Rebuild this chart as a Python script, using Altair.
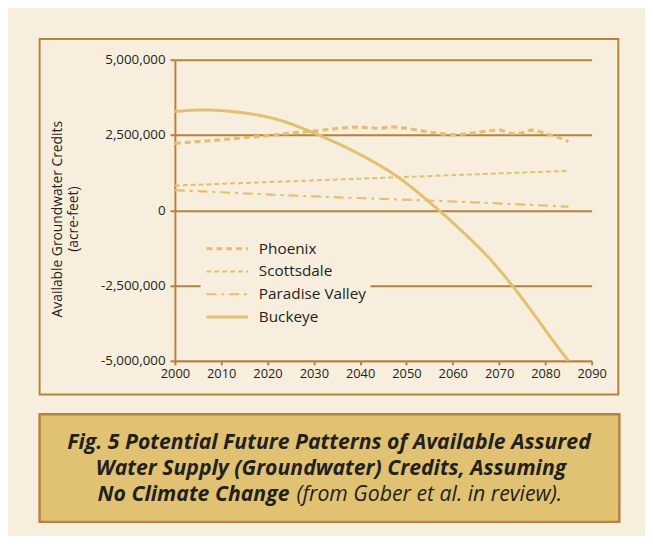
import altair as alt
import pandas as pd

# ---------------- data ----------------
cities = ["Phoenix", "Scottsdale", "Paradise Valley", "Buckeye"]

phoenix_years = [2000, 2005, 2010, 2015, 2020, 2025, 2030, 2035, 2039, 2042, 2044,
                 2047, 2050, 2054, 2057, 2060, 2063, 2067, 2070, 2073, 2075, 2077,
                 2080, 2083, 2085]
phoenix_vals = [2220000, 2280000, 2340000, 2410000, 2480000, 2560000, 2630000,
                2710000, 2760000, 2740000, 2720000, 2770000, 2720000, 2620000,
                2550000, 2510000, 2540000, 2620000, 2660000, 2550000, 2570000,
                2660000, 2550000, 2410000, 2280000]

scottsdale_years = [2000, 2040, 2085]
scottsdale_vals = [820000, 1050000, 1310000]

paradise_years = [2000, 2030, 2057, 2085]
paradise_vals = [670000, 460000, 310000, 120000]

buckeye_years = [2000, 2006, 2014, 2022, 2031, 2039, 2048, 2057, 2063, 2068,
                 2073, 2078, 2082, 2085]
buckeye_vals = [3280000, 3330000, 3250000, 3020000, 2500000, 1930000, 1120000,
                0, -840000, -1610000, -2530000, -3550000, -4400000, -5000000]

x_ticks = [2000, 2010, 2020, 2030, 2040, 2050, 2060, 2070, 2080, 2090]
y_ticks = [-5000000, -2500000, 0, 2500000, 5000000]

y_title = ["Available Groundwater Credits", "(acre-feet)"]
caption_1 = "Fig. 5 Potential Future Patterns of Available Assured"
caption_2 = "Water Supply (Groundwater) Credits, Assuming"
caption_3a = "No Climate Change"
caption_3b = "(from Gober et al. in review)."

# ---------------- table ----------------
rows = []
for name, ys, vs in [("Phoenix", phoenix_years, phoenix_vals),
                     ("Scottsdale", scottsdale_years, scottsdale_vals),
                     ("Paradise Valley", paradise_years, paradise_vals),
                     ("Buckeye", buckeye_years, buckeye_vals)]:
    for y, v in zip(ys, vs):
        rows.append({"city": name, "year": y, "value": v})
df = pd.DataFrame(rows)

# ---------------- styling ----------------
BG = "#f8eedd"
BROWN = "#b5833f"
GOLD = "#e2c070"
BOX = "#e1c273"
INK = "#231f20"
FONT = "Open Sans"

W, H = 422, 305
one = pd.DataFrame({"k": [0]})

lines = alt.Chart(df).mark_line(interpolate="monotone", clip=True).encode(
    x=alt.X("year:Q",
            scale=alt.Scale(domain=[2000, 2090], nice=False, zero=False),
            axis=alt.Axis(values=x_ticks, format="d", title=None, grid=False,
                          tickSize=4, tickWidth=2, tickColor=BROWN,
                          domainColor=BROWN, domainWidth=2,
                          labelFont=FONT, labelFontSize=13, labelColor=INK,
                          labelFlush=False, labelOverlap=False,
                          labelPadding=3)),
    y=alt.Y("value:Q",
            scale=alt.Scale(domain=[-5000000, 5000000], nice=False),
            axis=alt.Axis(values=y_ticks, title=y_title,
                          labelExpr="replace(format(datum.value, ','), '\u2212', '-')",
                          grid=True, gridColor=BROWN, gridWidth=2,
                          tickSize=5, tickWidth=2, tickColor=BROWN,
                          domainColor=BROWN, domainWidth=2,
                          labelFont=FONT, labelFontSize=13.5, labelColor=INK,
                          labelPadding=5, labelFlush=False, labelOverlap=False,
                          titleFont=FONT, titleFontSize=14, titleFontWeight="normal",
                          titleColor=INK, titleAngle=270, titleAlign="center",
                          titleBaseline="middle", titleX=-119, titleY=161,
                          titleLineHeight=16)),
    color=alt.Color("city:N", sort=cities, title=None,
                    scale=alt.Scale(domain=cities, range=[GOLD] * 4)),
    strokeDash=alt.StrokeDash("city:N", sort=cities, title=None,
                              scale=alt.Scale(domain=cities,
                                              range=[[6, 4], [5, 3], [10, 5, 3, 5], [1, 0]])),
    strokeWidth=alt.StrokeWidth("city:N", sort=cities, title=None,
                                scale=alt.Scale(type="ordinal", domain=cities,
                                                range=[3.2, 2, 2.2, 3])),
)

frame = alt.Chart(one).mark_rect(fillOpacity=0, stroke=BROWN, strokeWidth=2).encode(
    x=alt.value(-137), x2=alt.value(449), y=alt.value(-21), y2=alt.value(339))

box = alt.Chart(one).mark_rect(fill=BOX, stroke=BROWN, strokeWidth=2.5).encode(
    x=alt.value(-137), x2=alt.value(450), y=alt.value(359), y2=alt.value(468))

cap_style = dict(font=FONT, fontSize=21.5, fontWeight="bold", fontStyle="italic",
                 color=INK, baseline="middle")
cap1 = alt.Chart(one).mark_text(text=caption_1, align="center", **cap_style).encode(
    x=alt.value(156), y=alt.value(388))
cap2 = alt.Chart(one).mark_text(text=caption_2, align="center", **cap_style).encode(
    x=alt.value(158), y=alt.value(414.5))
cap3a = alt.Chart(one).mark_text(text=caption_3a, align="right", **cap_style).encode(
    x=alt.value(116), y=alt.value(441))
cap3b = alt.Chart(one).mark_text(text=caption_3b, align="left", font=FONT, fontSize=21.5,
                                 fontStyle="italic", fontWeight="normal", color=INK,
                                 baseline="middle").encode(
    x=alt.value(123), y=alt.value(441))

chart = alt.layer(frame, box, cap1, cap2, cap3a, cap3b, lines).properties(
    width=W, height=H,
    autosize=alt.AutoSizeParams(type="none"),
    padding={"left": 169, "top": 49, "right": 54, "bottom": 174},
    background=BG,
).configure_view(stroke=None).configure_legend(
    orient="none", legendX=26, legendY=176, padding=4,
    fillColor=BG, strokeColor=None,
    symbolType="stroke", symbolSize=1764, clipHeight=23, rowPadding=0,
    labelFont=FONT, labelFontSize=15.5, labelColor=INK, labelOffset=9,
)

chart.save("out.html", embed_options={"renderer": "svg", "actions": False})
